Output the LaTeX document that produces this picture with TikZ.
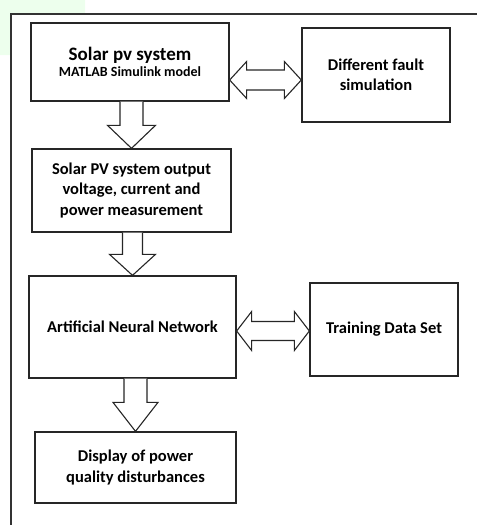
\documentclass[tikz,border=0pt]{standalone}
\usepackage{fontspec}
\setmainfont{Carlito}
\usetikzlibrary{calc}

% fat down arrow: from, to, shaft half, head half, head length
\newcommand{\fatdown}[5]{%
  \draw[fat] let \p1=(#1.south), \p2=(#2.north) in
    (\x2-#3pt,\y1) -- (\x2-#3pt,\y2+#5pt) -- (\x2-#4pt,\y2+#5pt) -- (\x2,\y2)
    -- (\x2+#4pt,\y2+#5pt) -- (\x2+#3pt,\y2+#5pt) -- (\x2+#3pt,\y1);}
% fat double arrow: left, right, level, shaft half, head half, head length
\newcommand{\fatboth}[6]{%
  \draw[fat] let \p1=(#1.east), \p2=(#2.west), \p3=(0,#3) in
    (\x1,\y3) -- (\x1+#6pt,\y3+#5pt) -- (\x1+#6pt,\y3+#4pt) -- (\x2-#6pt,\y3+#4pt)
    -- (\x2-#6pt,\y3+#5pt) -- (\x2,\y3) -- (\x2-#6pt,\y3-#5pt) -- (\x2-#6pt,\y3-#4pt)
    -- (\x1+#6pt,\y3-#4pt) -- (\x1+#6pt,\y3-#5pt) -- cycle;}

\begin{document}
\begin{tikzpicture}[x=1pt,y=-1pt]
  \tikzset{block/.style = {shape=rectangle, draw=black!85, line width=1.3pt, inner sep=0pt, align=center, font=\bfseries\fontsize{16.5}{20.5}\selectfont}}
  \tikzset{fat/.style = {draw=black!85, line width=1.1pt, fill=white, line join=miter}}
  \useasboundingbox (0,0) rectangle (477,525);
  % frame
  \fill[green!7] (0,0) rectangle (85,13) (0,0) rectangle (10,55);
  \draw[line width=1.2pt, black!80] (11,525) -- (11,14) -- (477,14);
  % blocks
  \node[block, minimum width=198pt, minimum height=78pt] (pv) at (130,62)
    {{\fontsize{19}{22}\selectfont Solar pv system}\\[-4pt]{\fontsize{14}{16}\selectfont MATLAB Simulink model}};
  \node[block, minimum width=148pt, minimum height=94pt] (sim) at (376,75)
    {Different fault\\simulation};
  \node[block, minimum width=199pt, minimum height=83pt] (meas) at (131.5,190.5)
    {Solar PV system output\\voltage, current and\\power measurement};
  \node[block, minimum width=207pt, minimum height=102pt] (ann) at (132.5,327)
    {Artificial Neural Network};
  \node[block, minimum width=148pt, minimum height=93pt] (train) at (384,329.5)
    {Training Data Set};
  \node[block, minimum width=201pt, minimum height=71pt] (disp) at (135.5,467.5)
    {Display of power\\quality disturbances};
  % arrows
  \fatdown{pv}{meas}{11.5}{24}{23}
  \fatdown{meas}{ann}{10}{23}{21}
  \fatdown{ann}{disp}{11.5}{22.5}{29}
  \fatboth{pv}{sim}{80}{10}{18.5}{17}
  \fatboth{ann}{train}{331}{9.5}{19.5}{15}
\end{tikzpicture}
\end{document}
